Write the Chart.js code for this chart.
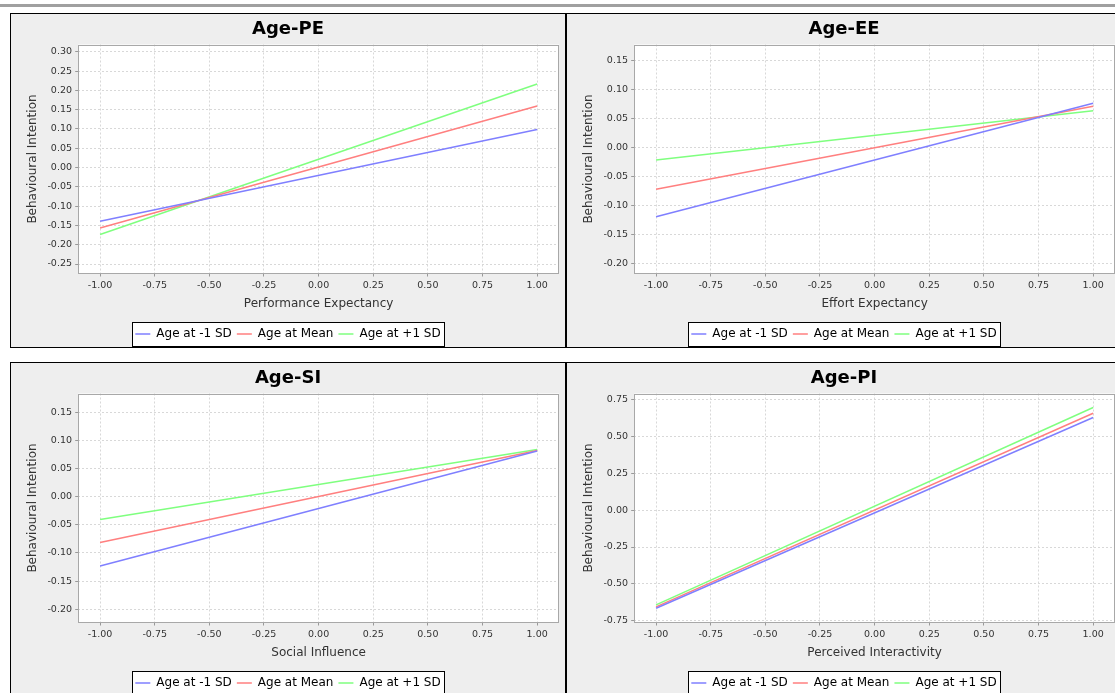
<!DOCTYPE html>
<html>
<head>
<meta charset="utf-8">
<script src="https://cdn.jsdelivr.net/npm/chart.js@4.4.1/dist/chart.umd.min.js"></script>
<style>
html, body { margin: 0; padding: 0; overflow: hidden; background: #ffffff; width: 1115px; height: 693px; }
#band { position: absolute; left: 0; top: 4px; width: 1115px; height: 3px; background: #a0a0a0; }
.panel { position: absolute; width: 554px; height: 333px; border: 1px solid #000; background: #eeeeee; }
.panel canvas { display: block; }
</style>
</head>
<body>
<div id="band"></div>
<div class="panel" style="left:10px;top:13px"><canvas id="c0" width="554" height="333"></canvas></div>
<div class="panel" style="left:566px;top:13px"><canvas id="c1" width="554" height="333"></canvas></div>
<div class="panel" style="left:10px;top:362px"><canvas id="c2" width="554" height="333"></canvas></div>
<div class="panel" style="left:566px;top:362px"><canvas id="c3" width="554" height="333"></canvas></div>
<script>
// ---- data ----
const xValues = [-1, 1];
const xTicks = [-1, -0.75, -0.5, -0.25, 0, 0.25, 0.5, 0.75, 1];
const seriesNames = ['Age at -1 SD', 'Age at Mean', 'Age at +1 SD'];
const titles = ['Age-PE', 'Age-EE', 'Age-SI', 'Age-PI'];
const xAxisLabels = ['Performance Expectancy', 'Effort Expectancy', 'Social Influence', 'Perceived Interactivity'];
const yAxisLabel = 'Behavioural Intention';

const peLow = [-0.139, 0.0985];
const peMean = [-0.1566, 0.1595];
const peHigh = [-0.1737, 0.2165];

const eeLow = [-0.1195, 0.0764];
const eeMean = [-0.0721, 0.0712];
const eeHigh = [-0.0217, 0.0633];

const siLow = [-0.123, 0.081];
const siMean = [-0.0815, 0.082];
const siHigh = [-0.0405, 0.084];

const piLow = [-0.666, 0.630];
const piMean = [-0.657, 0.659];
const piHigh = [-0.643, 0.698];

const peTicks = [0.30, 0.25, 0.20, 0.15, 0.10, 0.05, 0.00, -0.05, -0.10, -0.15, -0.20, -0.25];
const eeTicks = [0.15, 0.10, 0.05, 0.00, -0.05, -0.10, -0.15, -0.20];
const siTicks = [0.15, 0.10, 0.05, 0.00, -0.05, -0.10, -0.15, -0.20];
const piTicks = [0.75, 0.50, 0.25, 0.00, -0.25, -0.50, -0.75];

const peRange = [-0.2746, 0.3189];
const eeRange = [-0.2176, 0.1777];
const siRange = [-0.2235, 0.1833];
const piRange = [-0.763, 0.793];

// ---- styles ----
const lineColors = ['#7f7fff', '#ff7f7f', '#7fff7f'];
Chart.defaults.font.family = "'DejaVu Sans', sans-serif";

const decoPlugin = {
  id: 'deco',
  beforeDraw(chart) {
    const ctx = chart.ctx, a = chart.chartArea;
    ctx.save();
    ctx.fillStyle = '#eeeeee';
    ctx.fillRect(0, 0, chart.width, chart.height);
    ctx.fillStyle = '#ffffff';
    ctx.fillRect(a.left, a.top, a.right - a.left, a.bottom - a.top);
    const lg = chart.legend;
    if (lg && lg.legendHitBoxes && lg.legendHitBoxes.length) {
      const hb = lg.legendHitBoxes;
      const l = Math.round(Math.min(...hb.map(h => h.left)) - 3);
      const r = Math.round(Math.max(...hb.map(h => h.left + h.width)) + 3);
      const cy = hb[0].top + hb[0].height / 2;
      const t = Math.round(cy - 12);
      ctx.fillStyle = '#ffffff';
      ctx.fillRect(l, t, r - l, 24);
      ctx.strokeStyle = '#000000';
      ctx.lineWidth = 1;
      ctx.strokeRect(l + 0.5, t + 0.5, r - l, 24);
    }
    ctx.restore();
  },
  afterDraw(chart) {
    const ctx = chart.ctx, a = chart.chartArea;
    ctx.save();
    ctx.strokeStyle = '#a8a8a8';
    ctx.lineWidth = 1;
    ctx.strokeRect(Math.round(a.left) + 0.5, Math.round(a.top) + 0.5,
                   Math.round(a.right - a.left) - 1, Math.round(a.bottom - a.top) - 1);
    ctx.restore();
  }
};

function makeChart(id, title, xLabel, series, yTicks, yRange) {
  new Chart(document.getElementById(id), {
    type: 'line',
    data: {
      datasets: series.map((vals, i) => ({
        label: seriesNames[i],
        data: xValues.map((x, j) => ({ x: x, y: vals[j] })),
        borderColor: lineColors[i],
        backgroundColor: lineColors[i],
        borderWidth: 1.5,
        pointRadius: 0,
        pointHoverRadius: 0,
        fill: false,
        tension: 0
      }))
    },
    options: {
      responsive: false,
      animation: false,
      events: [],
      layout: { padding: 0, autoPadding: false },
      scales: {
        x: {
          type: 'linear',
          min: -1.1, max: 1.1,
          afterBuildTicks: s => { s.ticks = xTicks.map(v => ({ value: v })); },
          afterFit: s => { s.height = 49.5; },
          ticks: {
            autoSkip: false, maxRotation: 0, padding: 3.6,
            color: '#333333', font: { size: 9.5 },
            callback: v => Number(v).toFixed(2)
          },
          grid: { color: '#d8d8d8', lineWidth: 1, drawTicks: true, tickLength: 3, tickColor: '#999999', tickWidth: 1 },
          border: { display: false, dash: [2, 2] },
          title: { display: true, text: xLabel, color: '#333333', font: { size: 12 }, padding: { top: 0, bottom: 11.5 } }
        },
        y: {
          type: 'linear',
          position: 'left',
          min: yRange[0], max: yRange[1],
          afterBuildTicks: s => { s.ticks = yTicks.map(v => ({ value: v })); },
          afterFit: s => { s.width = 67.2; },
          ticks: {
            autoSkip: false, padding: 3.2,
            color: '#333333', font: { size: 9.5 },
            callback: v => Number(v).toFixed(2)
          },
          grid: { color: '#d8d8d8', lineWidth: 1, drawTicks: true, tickLength: 3, tickColor: '#999999', tickWidth: 1 },
          border: { display: false, dash: [2, 2] },
          title: { display: true, text: yAxisLabel, color: '#333333', font: { size: 12 }, padding: { top: 14.3, bottom: 0 } }
        },
        yr: {
          type: 'linear',
          position: 'right',
          display: true,
          afterFit: s => { s.width = 6; },
          ticks: { display: false },
          grid: { display: false },
          border: { display: false },
          title: { display: false }
        }
      },
      plugins: {
        title: {
          display: true, text: title, color: '#000000',
          font: { size: 18, weight: 'bold' },
          padding: { top: 4.4, bottom: 4.5 }
        },
        legend: {
          display: true, position: 'bottom', maxHeight: 24,
          labels: {
            usePointStyle: true, pointStyle: 'line', pointStyleWidth: 15,
            padding: 5, color: '#000000', font: { size: 12 }
          }
        },
        tooltip: { enabled: false }
      }
    },
    plugins: [decoPlugin]
  });
}

makeChart('c0', titles[0], xAxisLabels[0], [peLow, peMean, peHigh], peTicks, peRange);
makeChart('c1', titles[1], xAxisLabels[1], [eeLow, eeMean, eeHigh], eeTicks, eeRange);
makeChart('c2', titles[2], xAxisLabels[2], [siLow, siMean, siHigh], siTicks, siRange);
makeChart('c3', titles[3], xAxisLabels[3], [piLow, piMean, piHigh], piTicks, piRange);
</script>
</body>
</html>
